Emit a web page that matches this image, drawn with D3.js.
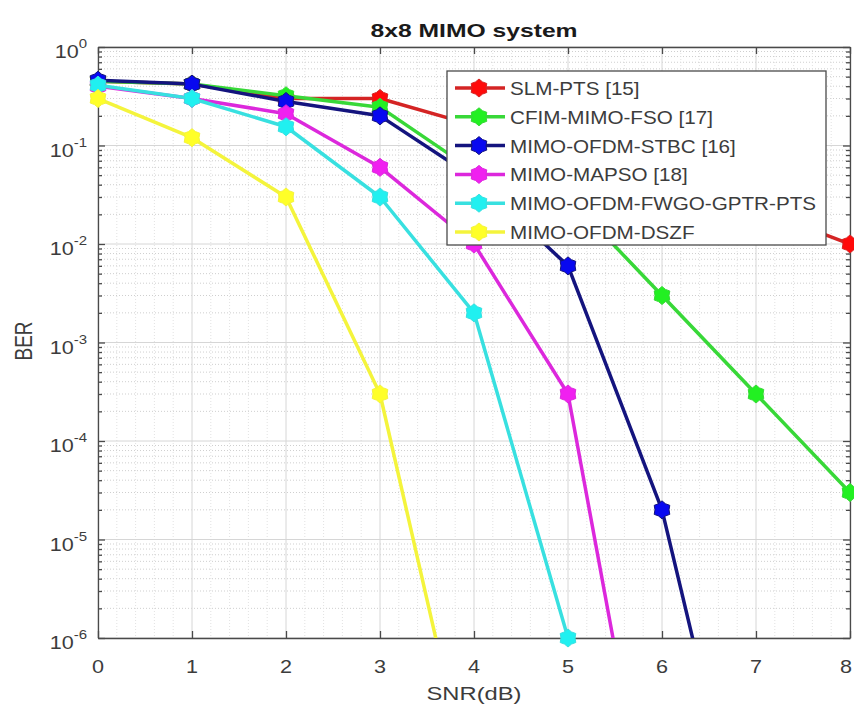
<!DOCTYPE html>
<html>
<head>
<meta charset="utf-8">
<script src="https://cdn.jsdelivr.net/npm/d3@7"></script>
<style>
  body { margin: 0; background: #fff; }
  svg { display: block; font-family: "Liberation Sans", Arial, sans-serif; }
</style>
</head>
<body>
<svg></svg>
<script>
// BER vs SNR curves for the 8x8 MIMO system

var snr = [0, 1, 2, 3, 4, 5, 6, 7, 8];

// one array per scheme, values follow snr (shorter arrays stop early)
var slmPts  = [0.45, 0.42, 0.30, 0.30, 0.16, 0.085, 0.045, 0.023, 0.01];
var cfimFso = [0.45, 0.42, 0.32, 0.245, 0.055, 0.03, 0.003, 3e-4, 3e-5];
var stbc    = [0.46, 0.42, 0.28, 0.20, 0.047, 0.006, 2e-5, 2e-9];
var mapso   = [0.40, 0.30, 0.21, 0.06, 0.01, 3e-4, 2e-9];
var fwgo    = [0.41, 0.30, 0.155, 0.03, 0.002, 1e-6];
var dszf    = [0.30, 0.12, 0.03, 3e-4, 2e-8];

var names = ["SLM-PTS [15]", "CFIM-MIMO-FSO [17]", "MIMO-OFDM-STBC [16]",
             "MIMO-MAPSO [18]", "MIMO-OFDM-FWGO-GPTR-PTS", "MIMO-OFDM-DSZF"];
var lineColors   = ["#d42424", "#38d838", "#14147e", "#dc28dc", "#38e0e0", "#f4f43c"];
var markerColors = ["#ff0a0a", "#22f022", "#0808f0", "#f020f0", "#20f0f0", "#ffff28"];

var xTicks = [0, 1, 2, 3, 4, 5, 6, 7, 8];
var yExps = [0, -1, -2, -3, -4, -5, -6];

var series = [slmPts, cfimFso, stbc, mapso, fwgo, dszf].map(function (vals, i) {
    return {
        name: names[i],
        line: lineColors[i],
        marker: markerColors[i],
        points: vals.map(function (v, j) { return { x: snr[j], y: v }; })
    };
});

var svgWidth = 854, svgHeight = 710;
// plot box (note: "top" is taken by window.top, so use other names)
var plotL = 98, plotR = 850, plotT = 47, plotB = 638;
var stretch = 1.2; // the source picture is a bit wider than tall

var svg = d3.select("svg")
    .attr("width", svgWidth)
    .attr("height", svgHeight);

var xScale = d3.scaleLinear().domain([0, 8]).range([plotL, plotR]);
var yScale = d3.scaleLog().domain([1e-6, 1]).range([plotB, plotT]);

// minor y values 2..9 x 10^k
var yMinor = [];
for (var k = -6; k < 0; k++) {
    for (var m = 2; m <= 9; m++) yMinor.push(m * Math.pow(10, k));
}
var xMinor = d3.range(0, 8.001, 0.2).filter(function (v) { return Math.abs(v - Math.round(v)) > 1e-6; });

// grid
var grid = svg.append("g");
grid.selectAll(".ymin").data(yMinor).enter().append("line")
    .attr("x1", plotL).attr("x2", plotR)
    .attr("y1", function (d) { return yScale(d); })
    .attr("y2", function (d) { return yScale(d); })
    .attr("stroke", "#cfcfcf").attr("stroke-width", 1).attr("stroke-dasharray", "1,2");
grid.selectAll(".xmin").data(xMinor).enter().append("line")
    .attr("y1", plotT).attr("y2", plotB)
    .attr("x1", function (d) { return xScale(d); })
    .attr("x2", function (d) { return xScale(d); })
    .attr("stroke", "#e2e2e2").attr("stroke-width", 1).attr("stroke-dasharray", "1,2");
grid.selectAll(".ymaj").data(yExps).enter().append("line")
    .attr("x1", plotL).attr("x2", plotR)
    .attr("y1", function (d) { return yScale(Math.pow(10, d)); })
    .attr("y2", function (d) { return yScale(Math.pow(10, d)); })
    .attr("stroke", "#d6d6d6").attr("stroke-width", 1);
grid.selectAll(".xmaj").data(xTicks).enter().append("line")
    .attr("y1", plotT).attr("y2", plotB)
    .attr("x1", function (d) { return xScale(d); })
    .attr("x2", function (d) { return xScale(d); })
    .attr("stroke", "#d6d6d6").attr("stroke-width", 1);

// axes, ticks pointing inward on all four sides
var yMajorVals = yExps.map(function (e) { return Math.pow(10, e); });
function styleAxis(g) {
    g.selectAll("path, line").attr("stroke", "#4a4a4a").attr("stroke-width", 1.3);
}
svg.append("g").attr("transform", "translate(0," + plotB + ")")
    .call(d3.axisBottom(xScale).tickValues(xTicks).tickSize(-7).tickSizeOuter(0).tickFormat(""))
    .call(styleAxis);
svg.append("g").attr("transform", "translate(0," + plotT + ")")
    .call(d3.axisTop(xScale).tickValues(xTicks).tickSize(-7).tickSizeOuter(0).tickFormat(""))
    .call(styleAxis);
svg.append("g").attr("transform", "translate(" + plotL + ",0)")
    .call(d3.axisLeft(yScale).tickValues(yMajorVals).tickSize(-7).tickSizeOuter(0).tickFormat(""))
    .call(styleAxis);
svg.append("g").attr("transform", "translate(" + plotR + ",0)")
    .call(d3.axisRight(yScale).tickValues(yMajorVals).tickSize(-7).tickSizeOuter(0).tickFormat(""))
    .call(styleAxis);
svg.append("g").attr("transform", "translate(" + plotL + ",0)")
    .call(d3.axisLeft(yScale).tickValues(yMinor).tickSize(-4).tickSizeOuter(0).tickFormat(""))
    .call(styleAxis).select(".domain").remove();
svg.append("g").attr("transform", "translate(" + plotR + ",0)")
    .call(d3.axisRight(yScale).tickValues(yMinor).tickSize(-4).tickSizeOuter(0).tickFormat(""))
    .call(styleAxis).select(".domain").remove();

// tick labels ("8" sits at the right edge like in the figure, nudged in a little)
svg.append("g").selectAll("text").data(xTicks).enter().append("text")
    .attr("transform", function (d) {
        var px = Math.min(xScale(d), svgWidth - 8);
        return "translate(" + px + ",673) scale(" + stretch + ",1)";
    })
    .attr("text-anchor", "middle")
    .attr("font-size", 18)
    .attr("fill", "#3c3c3c")
    .text(function (d) { return d; });

var yLab = svg.append("g").selectAll("text").data(yExps).enter().append("text")
    .attr("transform", function (d) {
        return "translate(" + 87 + "," + (yScale(Math.pow(10, d)) + 11) + ") scale(" + stretch + ",1)";
    })
    .attr("text-anchor", "end")
    .attr("font-size", 18)
    .attr("fill", "#3c3c3c");
yLab.append("tspan").text("10");
yLab.append("tspan").attr("dy", -10).attr("font-size", 12.5).text(function (d) { return d; });

// axis labels and title
svg.append("text")
    .attr("transform", "translate(474,700) scale(1.25,1)")
    .attr("text-anchor", "middle").attr("font-size", 19).attr("fill", "#3c3c3c")
    .text("SNR(dB)");
svg.append("text")
    .attr("transform", "translate(32,341) scale(1.25,1) rotate(-90)")
    .attr("text-anchor", "middle").attr("font-size", 19).attr("fill", "#3c3c3c")
    .text("BER");
svg.append("text")
    .attr("transform", "translate(474,37) scale(1.3,1)")
    .attr("text-anchor", "middle").attr("font-size", 19).attr("font-weight", "bold")
    .attr("fill", "#1a1a1a")
    .text("8x8 MIMO system");

// six-pointed marker, a fat hexagram so it reads like the blobs in the figure
function hexagram(R) {
    var r = R * 0.78, pts = [];
    for (var i = 0; i < 12; i++) {
        var a = Math.PI / 2 + i * Math.PI / 6;
        var rr = (i % 2 === 0) ? R : r;
        pts.push([rr * Math.cos(a), -rr * Math.sin(a)]);
    }
    return "M" + pts.join("L") + "Z";
}

// lines get clipped to the plot box, markers do not
svg.append("clipPath").attr("id", "plotClip")
    .append("rect").attr("x", plotL).attr("y", plotT)
    .attr("width", plotR - plotL).attr("height", plotB - plotT);

var line = d3.line()
    .x(function (d) { return xScale(d.x); })
    .y(function (d) { return yScale(d.y); });

var curves = svg.append("g");
series.forEach(function (s) {
    var g = curves.append("g");
    g.append("path")
        .attr("d", line(s.points))
        .attr("clip-path", "url(#plotClip)")
        .attr("fill", "none")
        .attr("stroke", s.line)
        .attr("stroke-width", 3.5)
        .attr("stroke-linejoin", "round");
    g.selectAll("path.mk")
        .data(s.points.filter(function (d) { return d.y >= 1e-6 * 0.999; }))
        .enter().append("path")
        .attr("class", "mk")
        .attr("d", hexagram(9))
        .attr("transform", function (d) { return "translate(" + xScale(d.x) + "," + yScale(d.y) + ")"; })
        .attr("fill", s.marker)
        .attr("stroke", s.line)
        .attr("stroke-width", 1)
        .attr("stroke-linejoin", "round");
});

// legend box
var legX = 447, legY = 71, legW = 379, legH = 174, rowH = 28.8;
var legend = svg.append("g");
legend.append("rect")
    .attr("x", legX).attr("y", legY).attr("width", legW).attr("height", legH)
    .attr("fill", "#fff").attr("stroke", "#4a4a4a").attr("stroke-width", 1.3);
var rows = legend.selectAll("g.row").data(series).enter().append("g")
    .attr("transform", function (d, i) { return "translate(0," + (legY + 17 + i * rowH) + ")"; });
rows.append("line")
    .attr("x1", legX + 8).attr("x2", legX + 58)
    .attr("stroke", function (d) { return d.line; })
    .attr("stroke-width", 3.5);
rows.append("path")
    .attr("d", hexagram(9))
    .attr("transform", "translate(" + (legX + 32) + ",0)")
    .attr("fill", function (d) { return d.marker; })
    .attr("stroke", function (d) { return d.line; })
    .attr("stroke-width", 1)
    .attr("stroke-linejoin", "round");
rows.append("text")
    .attr("transform", "translate(" + (legX + 63) + ",7) scale(1.18,1)")
    .attr("font-size", 17.5)
    .attr("fill", "#3c3c3c")
    .text(function (d) { return d.name; });
</script>
</body>
</html>
